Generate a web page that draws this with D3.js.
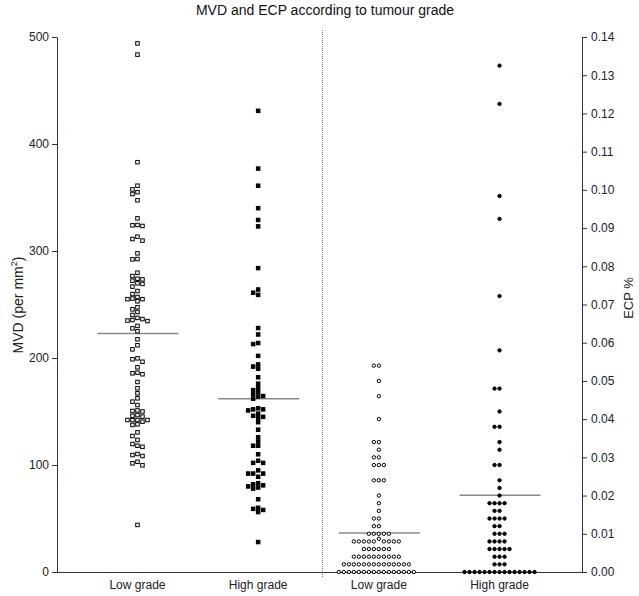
<!DOCTYPE html>
<html><head><meta charset="utf-8">
<script src="https://cdn.jsdelivr.net/npm/d3@7"></script>
<style>body{margin:0;background:#fff}svg{display:block}</style>
</head><body>
<script>
const title = "MVD and ECP according to tumour grade";
const categories = ["Low grade", "High grade", "Low grade", "High grade"];
const mvdLow = [494, 483.5, 383, 361, 357.6, 355, 353.3, 347.4, 330.5, 324.3, 323.4, 324, 311.2, 309.7, 313.4, 297.8, 292.5, 292.2, 279.7, 276.6, 273.5, 272.3, 274.1, 269.8, 266.7, 269.2, 262.6, 259.8, 257, 255.6, 255, 255, 253, 247.4, 245.5, 243, 240.2, 236.4, 235, 234.5, 235.5, 237.5, 227.7, 230, 225, 217.5, 211.9, 208.1, 199.7, 196.5, 198.8, 191.3, 186.3, 184.8, 185.7, 177.6, 171.7, 167, 162.3, 159.2, 156, 151, 150, 150.5, 146.7, 145.2, 146, 142, 140.5, 142, 142, 142, 138, 137.4, 130.5, 127.1, 123.4, 119.6, 117, 118, 110.3, 108.4, 109.3, 103, 101.6, 99.7, 44];
const mvdHigh = [431, 377, 361, 340, 329, 323, 284, 264, 261, 259, 228, 222, 214, 213, 202, 194, 192, 190, 182, 176, 172, 170, 168, 166, 164.5, 164, 162, 153, 152, 152, 151, 148, 146, 145, 144, 140, 133, 126, 122, 118, 118, 110, 104, 102, 102, 95, 92, 92, 92, 89, 83, 82, 81, 80, 79, 78, 68, 60, 59, 58, 56, 28];
const ecpLow = [0.054, 0.054, 0.050, 0.046, 0.040, 0.034, 0.034, 0.032, 0.030, 0.030, 0.028, 0.028, 0.028, 0.024, 0.024, 0.024, 0.020, 0.018, 0.016, 0.014, 0.014, 0.012, 0.012,
  0.010, 0.010, 0.010, 0.010, 0.010, 0.0087,
  0.008, 0.008, 0.008, 0.008, 0.008, 0.008, 0.008, 0.008, 0.008,
  0.006, 0.006, 0.006, 0.006, 0.006, 0.006,
  0.004, 0.004, 0.004, 0.004, 0.004, 0.004, 0.004, 0.004, 0.004, 0.004,
  0.002, 0.002, 0.002, 0.002, 0.002, 0.002, 0.002, 0.002, 0.002, 0.002, 0.002, 0.002, 0.002, 0.002,
  0, 0, 0, 0, 0, 0, 0, 0, 0, 0, 0, 0, 0, 0, 0, 0];
const ecpHigh = [0.1325, 0.1225, 0.0984, 0.0924, 0.0722, 0.058, 0.048, 0.048, 0.042, 0.038, 0.038, 0.034, 0.032, 0.028, 0.028, 0.024, 0.022, 0.020,
  0.018, 0.018, 0.018, 0.018, 0.016, 0.016, 0.014, 0.014, 0.014, 0.014, 0.012, 0.012,
  0.010, 0.010, 0.010, 0.008, 0.008, 0.008, 0.008, 0.006, 0.006, 0.006, 0.006, 0.006,
  0.004, 0.004, 0.004, 0.002, 0.002, 0.002,
  0, 0, 0, 0, 0, 0, 0, 0, 0, 0, 0, 0, 0, 0, 0];
const groupMeans = [223, 162, 0.0102, 0.0201];
const mvdTicks = [0, 100, 200, 300, 400, 500];
const ecpTicks = [0, 0.01, 0.02, 0.03, 0.04, 0.05, 0.06, 0.07, 0.08, 0.09, 0.10, 0.11, 0.12, 0.13, 0.14];

const W = 639, H = 596;
const L = 57, R = 582, T = 37, B = 572;
const FONT = "'Liberation Sans', Arial, sans-serif";

const svg = d3.select("body").append("svg").attr("width", W).attr("height", H)
  .style("font-family", FONT);

const yMVD = d3.scaleLinear().domain([0, 500]).range([B, T]);
const yECP = d3.scaleLinear().domain([0, 0.14]).range([B, T]);
const x = d3.scalePoint().domain(d3.range(categories.length)).range([56, 581]).padding(0.675);

// title
svg.append("text").attr("x", 325).attr("y", 15).attr("text-anchor", "middle")
  .attr("font-size", 14).attr("fill", "#111").text(title);

// divider
svg.append("line").attr("x1", 322.5).attr("x2", 322.5).attr("y1", 30).attr("y2", 578)
  .attr("stroke", "#777").attr("stroke-dasharray", "1,1");

// axes
const ga = svg.append("g").attr("transform", `translate(${L},0)`)
  .call(d3.axisLeft(yMVD).tickValues(mvdTicks).tickSize(5).tickSizeOuter(0).tickPadding(3));
const gb = svg.append("g").attr("transform", `translate(${R},0)`)
  .call(d3.axisRight(yECP).tickValues(ecpTicks).tickFormat(d3.format(".2f")).tickSize(5).tickSizeOuter(0).tickPadding(4));
[ga, gb].forEach(g => {
  g.selectAll("path,line").attr("stroke", "#333");
  g.selectAll("text").attr("font-size", 12).attr("fill", "#222").style("font-family", FONT);
});
svg.append("line").attr("x1", L).attr("x2", R).attr("y1", B + 0.5).attr("y2", B + 0.5).attr("stroke", "#333");

// category labels
svg.selectAll("text.cat").data(categories).join("text").attr("class", "cat")
  .attr("x", (d, i) => x(i)).attr("y", 589).attr("text-anchor", "middle")
  .attr("font-size", 12).attr("fill", "#222").text(d => d);

// axis titles
const yl = svg.append("text").attr("transform", `translate(23,305) rotate(-90)`)
  .attr("text-anchor", "middle").attr("font-size", 14).attr("fill", "#222");
yl.append("tspan").text("MVD (per mm");
yl.append("tspan").attr("font-size", 9).attr("dy", -6).text("2");
yl.append("tspan").attr("dy", 6).text(")");
svg.append("text").attr("transform", `translate(633,298) rotate(-90)`)
  .attr("text-anchor", "middle").attr("font-size", 13).attr("fill", "#222").text("ECP %");

// swarm layout: quantised horizontal offsets
function swarm(values, y, step, thr) {
  const order = [0];
  for (let k = 1; k < 40; k++) { order.push(-k * step, k * step); }
  const placed = [];
  const sorted = values.map(v => ({ v, py: y(v) })).sort((a, b) => a.py - b.py);
  sorted.forEach(p => {
    for (const o of order) {
      if (!placed.some(q => q.o === o && Math.abs(q.py - p.py) < thr)) { p.o = o; placed.push(p); break; }
    }
  });
  return placed;
}

const groups = [
  { vals: mvdLow, y: yMVD, shape: "square", fill: "#fff" },
  { vals: mvdHigh, y: yMVD, shape: "square", fill: "#000" },
  { vals: ecpLow, y: yECP, shape: "circle", fill: "#fff" },
  { vals: ecpHigh, y: yECP, shape: "circle", fill: "#000" }
];

groups.forEach((g, i) => {
  const cx = x(i);
  svg.append("line").attr("x1", cx - 40).attr("x2", cx + 41)
    .attr("y1", g.y(groupMeans[i])).attr("y2", g.y(groupMeans[i]))
    .attr("stroke", "#8a8a8a").attr("stroke-width", 1.5);
  const pts = swarm(g.vals, g.y, 5, 4.2);
  const gg = svg.append("g");
  if (g.shape === "square") {
    gg.selectAll("rect").data(pts).join("rect")
      .attr("x", d => cx + d.o - 1.75).attr("y", d => d.py - 1.75)
      .attr("width", 3.5).attr("height", 3.5)
      .attr("fill", g.fill).attr("stroke", "#000").attr("stroke-width", 1);
  } else {
    gg.selectAll("circle").data(pts).join("circle")
      .attr("cx", d => cx + d.o).attr("cy", d => d.py).attr("r", 1.7)
      .attr("fill", g.fill).attr("stroke", "#000").attr("stroke-width", 1);
  }
});
</script>
</body></html>
